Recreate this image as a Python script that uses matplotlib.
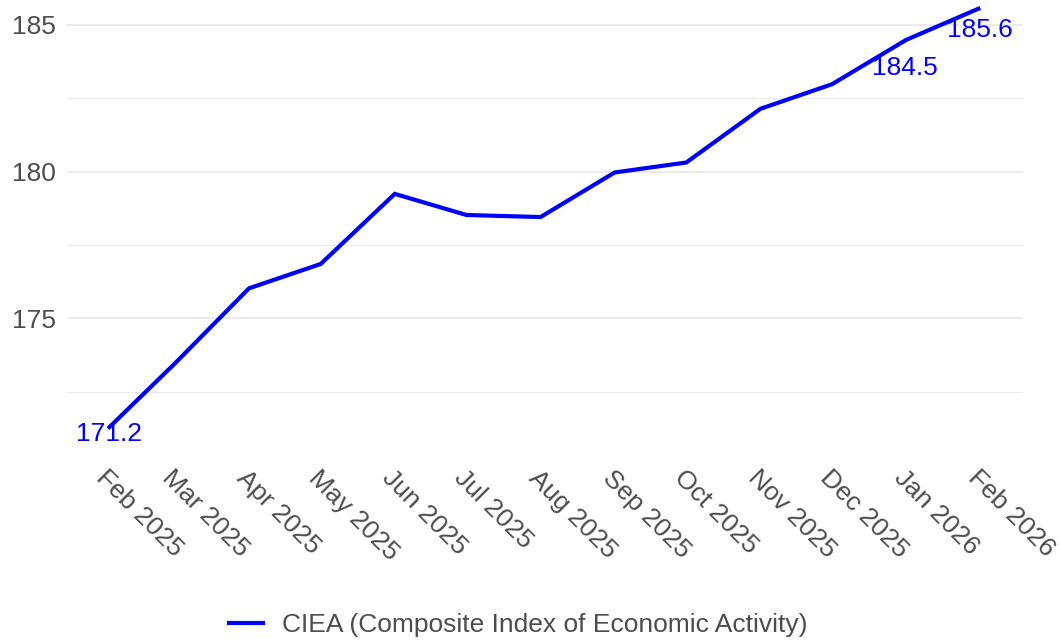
import pandas as pd
import matplotlib
matplotlib.use("Agg")
import matplotlib.pyplot as plt
import matplotlib.dates as mdates
from matplotlib.ticker import MultipleLocator
from matplotlib.lines import Line2D

plt.rcParams["font.family"] = ["Liberation Sans", "DejaVu Sans"]

# ── data ────────────────────────────────────────────────────
months = ["2025-02-01", "2025-03-01", "2025-04-01", "2025-05-01",
          "2025-06-01", "2025-07-01", "2025-08-01", "2025-09-01",
          "2025-10-01", "2025-11-01", "2025-12-01", "2026-01-01",
          "2026-02-01"]
ciea = [171.24, 173.46, 176.02, 176.85, 179.24, 178.52, 178.45,
        179.97, 180.31, 182.14, 182.98, 184.49, 185.58]
tick_labels = ["Feb 2025", "Mar 2025", "Apr 2025", "May 2025", "Jun 2025",
               "Jul 2025", "Aug 2025", "Sep 2025", "Oct 2025", "Nov 2025",
               "Dec 2025", "Jan 2026", "Feb 2026"]
label_idx = [0, 11, 12]           # points that get a value label
series_name = "CIEA (Composite Index of Economic Activity)"

dates = pd.to_datetime(months)
BLUE = "#0000FF"
GREY = "#4D4D4D"
FS = 19

# ── figure ──────────────────────────────────────────────────
W, H = 1060, 641
fig = plt.figure(figsize=(W / 100, H / 100), dpi=100)
ax = fig.add_axes([67 / W, 1 - 452 / H, (1023 - 67) / W, 452 / H])

ax.plot(dates, ciea, color=BLUE, linewidth=3, solid_capstyle="butt",
        solid_joinstyle="miter")

# value labels (offsets in points, below the point)
offsets = {0: (1, -4), 11: (-1, -20), 12: (0, -16)}
for i in label_idx:
    dx, dy = offsets[i]
    ax.annotate(f"{ciea[i]:.1f}", (dates[i], ciea[i]), xytext=(dx, dy),
                textcoords="offset points", ha="center", va="center",
                color=BLUE, fontsize=FS)

# axes limits (ggplot-like expansion)
span = (dates[-1] - dates[0]).days
ax.set_xlim(mdates.date2num(dates[0]) - 0.047 * span,
            mdates.date2num(dates[-1]) + 0.049 * span)
ax.set_ylim(170.44, 185.85)

ax.set_xticks(dates)
ax.set_xticklabels(tick_labels, rotation=-45, ha="left", va="top",
                   rotation_mode="anchor", fontsize=FS, color=GREY)
ax.yaxis.set_major_locator(MultipleLocator(5))
ax.yaxis.set_minor_locator(MultipleLocator(2.5))
ax.tick_params(axis="y", labelsize=FS, labelcolor=GREY, length=0, pad=8)
ax.tick_params(axis="x", length=0, pad=10)
ax.tick_params(axis="y", which="minor", length=0)

ax.grid(axis="y", which="major", color="#EBEBEB", linewidth=1.4)
ax.grid(axis="y", which="minor", color="#EBEBEB", linewidth=0.8)
ax.set_axisbelow(True)
for s in ax.spines.values():
    s.set_visible(False)

handle = Line2D([], [], color=BLUE, linewidth=3)
fig.legend([handle], [series_name], loc="center",
           bbox_to_anchor=(518 / W, 1 - 625 / H),
           frameon=False, fontsize=FS, handlelength=1.3, handletextpad=0.7,
           labelcolor=GREY)

fig.savefig("out.png", dpi=100)
